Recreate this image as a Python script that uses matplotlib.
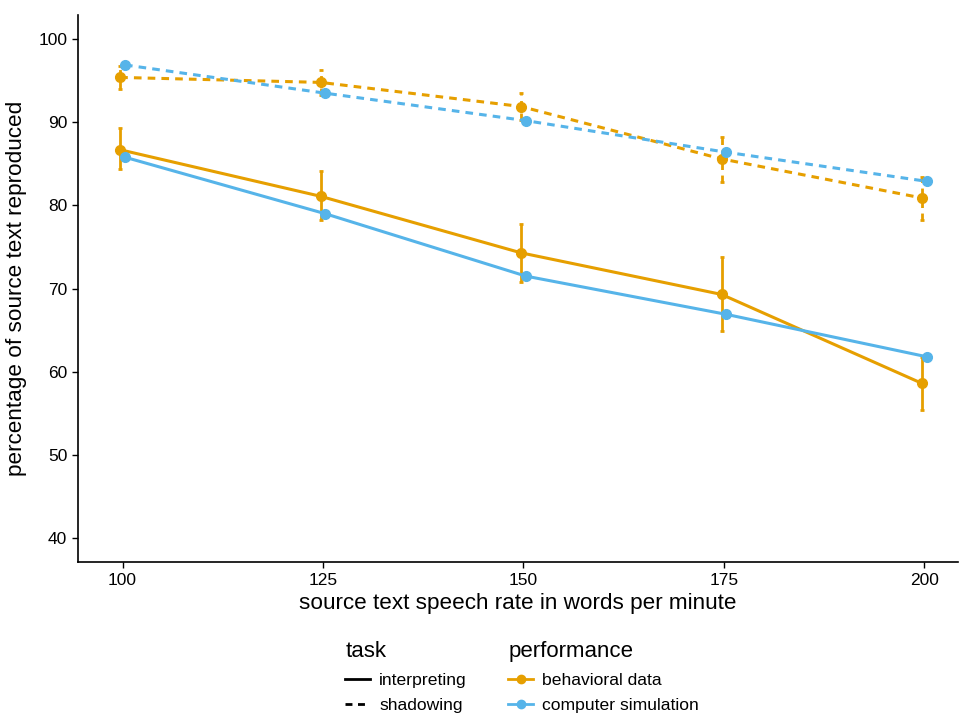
import numpy as np
import matplotlib.pyplot as plt
from matplotlib.lines import Line2D

plt.rcParams['font.family'] = ['Liberation Sans', 'DejaVu Sans']

# speech rates (words per minute)
rates = [100, 125, 150, 175, 200]

# interpreting task
interp_beh = [86.7, 81.1, 74.3, 69.3, 58.6]
interp_beh_lo = [84.4, 78.2, 70.8, 64.9, 55.4]
interp_beh_hi = [89.3, 84.1, 77.8, 73.8, 61.8]
interp_sim = [85.8, 79.0, 71.5, 66.9, 61.8]

# shadowing task
shadow_beh = [95.4, 94.8, 91.9, 85.6, 80.9]
shadow_beh_lo = [94.0, 93.3, 90.3, 82.8, 78.2]
shadow_beh_hi = [96.8, 96.3, 93.5, 88.2, 83.4]
shadow_sim = [96.9, 93.5, 90.2, 86.4, 82.9]

orange = '#E69F00'
blue = '#56B4E9'
dodge = 0.3
dash = (0, (2.5, 2))

fig = plt.figure(figsize=(9.59, 7.17), dpi=100)
ax = fig.add_axes([0.081, 0.216, 0.918, 0.763])

x = np.array(rates)
xb = x - dodge
xs = x + dodge

def draw(xv, y, lo, hi, color, ls):
    y = np.array(y)
    if lo is not None:
        err = [y - np.array(lo), np.array(hi) - y]
        eb = ax.errorbar(xv, y, yerr=err, fmt='none', ecolor=color, elinewidth=2,
                         capsize=1.5, capthick=2, zorder=2)
        for c in eb[2]:
            c.set_linestyle(ls)
    ax.plot(xv, y, color=color, lw=2.2, ls=ls, marker='o', markersize=7,
            zorder=3)

draw(xb, interp_beh, interp_beh_lo, interp_beh_hi, orange, '-')
draw(xs, interp_sim, None, None, blue, '-')
draw(xb, shadow_beh, shadow_beh_lo, shadow_beh_hi, orange, dash)
draw(xs, shadow_sim, None, None, blue, dash)

ax.set_xlim(94.4, 204.2)
ax.set_ylim(37.1, 102.9)
ax.set_xticks(rates)
ax.set_yticks([40, 50, 60, 70, 80, 90, 100])
ax.spines['top'].set_visible(False)
ax.spines['right'].set_visible(False)
ax.spines['left'].set_linewidth(1.2)
ax.spines['bottom'].set_linewidth(1.2)
ax.tick_params(labelsize=12.5, length=4, width=1, colors='black')
ax.set_xlabel('source text speech rate in words per minute', fontsize=16.2, labelpad=4)
ax.set_ylabel('percentage of source text reproduced', fontsize=16.2, labelpad=8)

task_handles = [Line2D([], [], color='black', lw=2, ls='-'),
                Line2D([], [], color='black', lw=2, ls=dash)]
perf_handles = [Line2D([], [], color=orange, lw=2, marker='o', markersize=6),
                Line2D([], [], color=blue, lw=2, marker='o', markersize=6)]

common = dict(loc='upper left', frameon=False, fontsize=12.6, title_fontsize=16,
              handlelength=1.4, handletextpad=0.55, labelspacing=0.6,
              borderaxespad=0, borderpad=0)
leg1 = fig.legend(task_handles, ['interpreting', 'shadowing'], title='task',
                  bbox_to_anchor=(0.360, 0.106), **common)
leg1._legend_box.align = 'left'
leg2 = fig.legend(perf_handles, ['behavioral data', 'computer simulation'],
                  title='performance', bbox_to_anchor=(0.530, 0.106), **common)
leg2._legend_box.align = 'left'

fig.savefig('out.png', dpi=100)
